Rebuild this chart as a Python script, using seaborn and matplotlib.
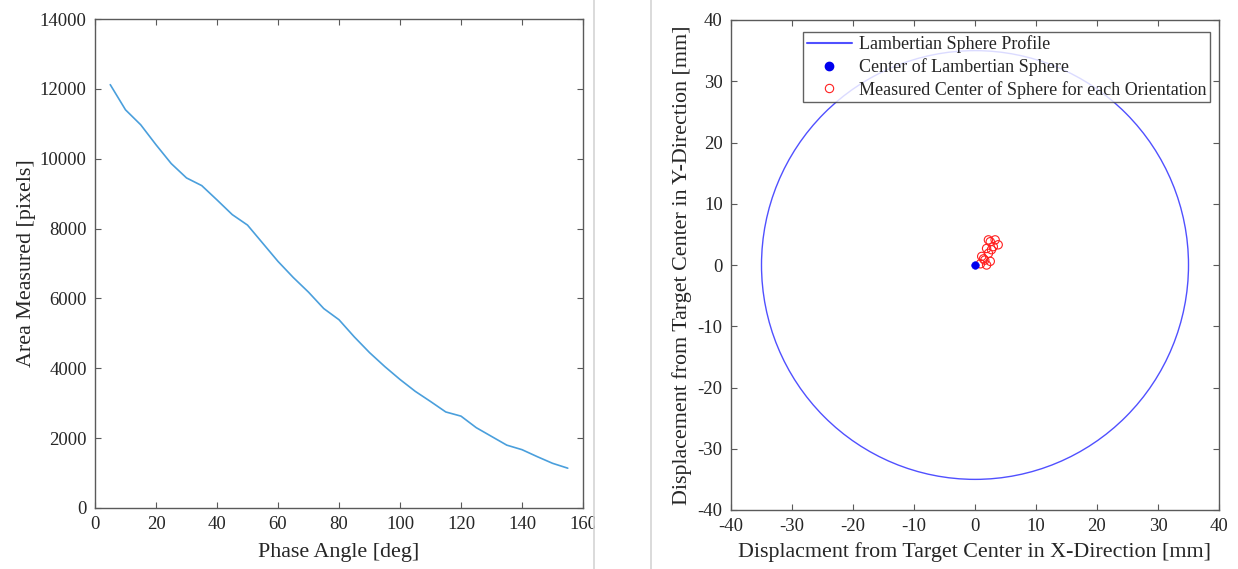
import numpy as np
import pandas as pd
import matplotlib
matplotlib.use("Agg")
import matplotlib.pyplot as plt
from matplotlib.lines import Line2D
from matplotlib.patches import Circle, Rectangle
import seaborn as sns

sns.set_theme(style="white")
plt.rcParams['font.family'] = ['Liberation Serif', 'DejaVu Serif']
plt.rcParams['axes.unicode_minus'] = False

# Left panel: measured area vs phase angle
phase_angle = [5, 10, 15, 20, 25, 30, 35, 40, 45, 50, 55, 60, 65, 70, 75, 80,
               85, 90, 95, 100, 105, 110, 115, 120, 125, 130, 135, 140, 145, 150, 155]
area_px = [12120, 11400, 10970, 10400, 9860, 9450, 9230, 8820, 8400, 8100, 7580,
           7060, 6600, 6180, 5710, 5390, 4900, 4450, 4050, 3680, 3340, 3050, 2750,
           2630, 2300, 2050, 1800, 1670, 1470, 1280, 1140]

# Right panel: sphere profile and measured centres
sphere_radius = 35.0
sphere_center_x = [0.0]
sphere_center_y = [0.0]
meas_x = [1.1, 0.9, 1.9, 2.5, 1.6, 2.2, 1.9, 2.5, 3.3, 3.8, 3.0, 2.2, 2.7, 1.4]
meas_y = [1.4, 0.2, 0.0, 0.6, 0.8, 1.9, 2.7, 3.8, 4.1, 3.3, 3.0, 4.1, 2.5, 1.0]

spine_col = '#5a5a5a'
W, H = 1238, 569
fig = plt.figure(figsize=(W / 100, H / 100), dpi=100)
fig.patch.set_facecolor('white')

def style_axes(ax):
    for s in ax.spines.values():
        s.set_color(spine_col)
        s.set_linewidth(1.0)
    ax.tick_params(direction='in', length=4, width=0.8, color=spine_col,
                   top=True, right=True, bottom=True, left=True,
                   labelsize=13.5, labelcolor='#262626', pad=6)

ax1 = fig.add_axes([95 / W, 1 - 508 / H, (583 - 95) / W, (508 - 19) / H])
df_area = pd.DataFrame({'Phase': phase_angle, 'Area': area_px})
sns.lineplot(data=df_area, x='Phase', y='Area', ax=ax1, color='#4a9fdc', linewidth=1.2)
ax1.set_xlim(0, 160)
ax1.set_ylim(0, 14000)
ax1.set_xticks(range(0, 161, 20))
ax1.set_yticks(range(0, 14001, 2000))
ax1.set_xlabel('Phase Angle [deg]', fontsize=15.8, color='#262626', labelpad=7)
ax1.set_ylabel('Area Measured [pixels]', fontsize=15.8, color='#262626', labelpad=3)
style_axes(ax1)

ax2 = fig.add_axes([731 / W, 1 - 510 / H, (1219 - 731) / W, (510 - 20) / H])
ax2.add_patch(Circle((0, 0), sphere_radius, fill=False, edgecolor='#5050ff', linewidth=1.0))
sns.scatterplot(x=meas_x, y=meas_y, ax=ax2, marker='o', s=36, facecolors='none',
                edgecolor='#ff2020', linewidth=0.8, zorder=3)
sns.scatterplot(x=sphere_center_x, y=sphere_center_y, ax=ax2, marker='o', s=30,
                color='#0000ee', edgecolor='#0000ee', zorder=4)
ax2.set_xlim(-40, 40)
ax2.set_ylim(-40, 40)
ax2.set_xticks(range(-40, 41, 10))
ax2.set_yticks(range(-40, 41, 10))
ax2.set_xlabel('Displacment from Target Center in X-Direction [mm]', fontsize=15.8,
               color='#262626', labelpad=5)
ax2.set_ylabel('Displacement from Target Center in Y-Direction [mm]', fontsize=15.8,
               color='#262626', labelpad=4)
style_axes(ax2)

handles = [
    Line2D([], [], color='#5050ff', linewidth=1.5),
    Line2D([], [], color='#0000ee', marker='o', linestyle='none', markersize=6),
    Line2D([], [], color='#ff2020', marker='o', linestyle='none', markersize=6,
           markerfacecolor='none', markeredgewidth=0.8),
]
labels = ['Lambertian Sphere Profile', 'Center of Lambertian Sphere',
          'Measured Center of Sphere for each Orientation']
leg = ax2.legend(handles, labels, loc='upper right', bbox_to_anchor=(0.9816, 0.9755),
                 fontsize=13, frameon=True, fancybox=False, handlelength=2.5,
                 handletextpad=0.4, labelspacing=0.26, borderpad=0.2,
                 borderaxespad=0.0)
leg.get_frame().set_edgecolor('#3a3a3a')
leg.get_frame().set_linewidth(1.0)
for t in leg.get_texts():
    t.set_color('#262626')

# screenshot crop between the two figures
fig.add_artist(Rectangle((594.5 / W, 0), (650 - 594.5) / W, 1, transform=fig.transFigure,
                         facecolor='white', edgecolor='none', zorder=10))
fig.add_artist(Line2D([594 / W, 594 / W], [0, 1], transform=fig.transFigure,
                      color='#d4d4d4', linewidth=1.2, zorder=11))
fig.add_artist(Line2D([651 / W, 651 / W], [0, 1], transform=fig.transFigure,
                      color='#d4d4d4', linewidth=1.2, zorder=11))

fig.savefig('out.png', dpi=100, facecolor='white')
